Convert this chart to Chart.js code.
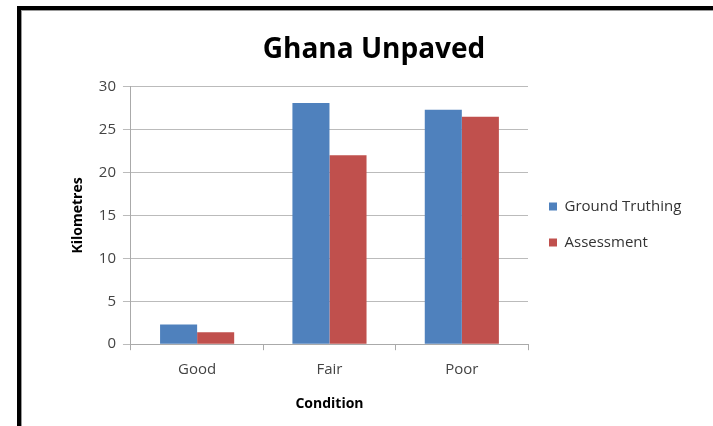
<!DOCTYPE html>
<html>
<head>
<meta charset="utf-8">
<script src="https://cdn.jsdelivr.net/npm/chart.js@4.4.1/dist/chart.umd.min.js"></script>
<style>
    html, body { margin: 0; padding: 0; background: #fff; }
    #wrap { position: relative; width: 713px; height: 426px; overflow: hidden; }
    #moldura {
        position: absolute; left: 17px; top: 6px; width: 800px; height: 500px;
        border-top: 4px solid #000; border-left: 4px solid #000;
        box-shadow: inset 1px 1px 0 #999;
        pointer-events: none;
    }
    canvas { position: absolute; left: 0; top: 0; }
</style>
</head>
<body>
<div id="wrap">
    <canvas id="grafico" width="713" height="426"></canvas>
    <div id="moldura"></div>
</div>
<script>
// dados
const categorias = ['Good', 'Fair', 'Poor'];
const groundTruthing = [2.3, 28.1, 27.3];
const assessment = [1.4, 22.0, 26.5];
const ticksY = [0, 5, 10, 15, 20, 25, 30];

const fonte = '"Open Sans", Lato, sans-serif';

const ctx = document.getElementById('grafico').getContext('2d');
new Chart(ctx, {
    type: 'bar',
    data: {
        labels: categorias,
        datasets: [{
            label: 'Ground Truthing',
            data: groundTruthing,
            backgroundColor: '#4F81BD'
        }, {
            label: 'Assessment',
            data: assessment,
            backgroundColor: '#C0504D'
        }]
    },
    options: {
        responsive: false,
        animation: false,
        categoryPercentage: 0.56,
        barPercentage: 1.0,
        layout: { padding: { left: 66, right: 31, top: 33, bottom: 10 } },
        plugins: {
            title: {
                display: true,
                text: 'Ghana Unpaved',
                color: '#000',
                font: { family: fonte, size: 28, weight: 'bold' },
                padding: { top: 0, bottom: 20 }
            },
            legend: {
                position: 'right',
                labels: {
                    boxWidth: 8,
                    boxHeight: 8,
                    padding: 21,
                    color: '#333',
                    font: { family: fonte, size: 15 }
                }
            },
            tooltip: { enabled: false }
        },
        scales: {
            x: {
                grid: { drawOnChartArea: false, tickLength: 6, color: '#aaa' },
                border: { color: '#aaa' },
                ticks: { color: '#444', font: { family: fonte, size: 15 }, padding: 11 },
                title: {
                    display: true, text: 'Condition', color: '#000',
                    font: { family: fonte, size: 14, weight: 'bold' },
                    padding: { top: 5 }
                }
            },
            y: {
                min: 0, max: 30,
                afterBuildTicks: (eixo) => { eixo.ticks = ticksY.map(v => ({ value: v })); },
                grid: { color: '#bbb', tickLength: 8 },
                border: { color: '#aaa' },
                ticks: { color: '#444', font: { family: fonte, size: 15 }, padding: 7 },
                title: {
                    display: true, text: 'Kilometres', color: '#000',
                    font: { family: fonte, size: 14, weight: 'bold' },
                    padding: { bottom: 5 }
                }
            }
        }
    }
});
</script>
</body>
</html>
